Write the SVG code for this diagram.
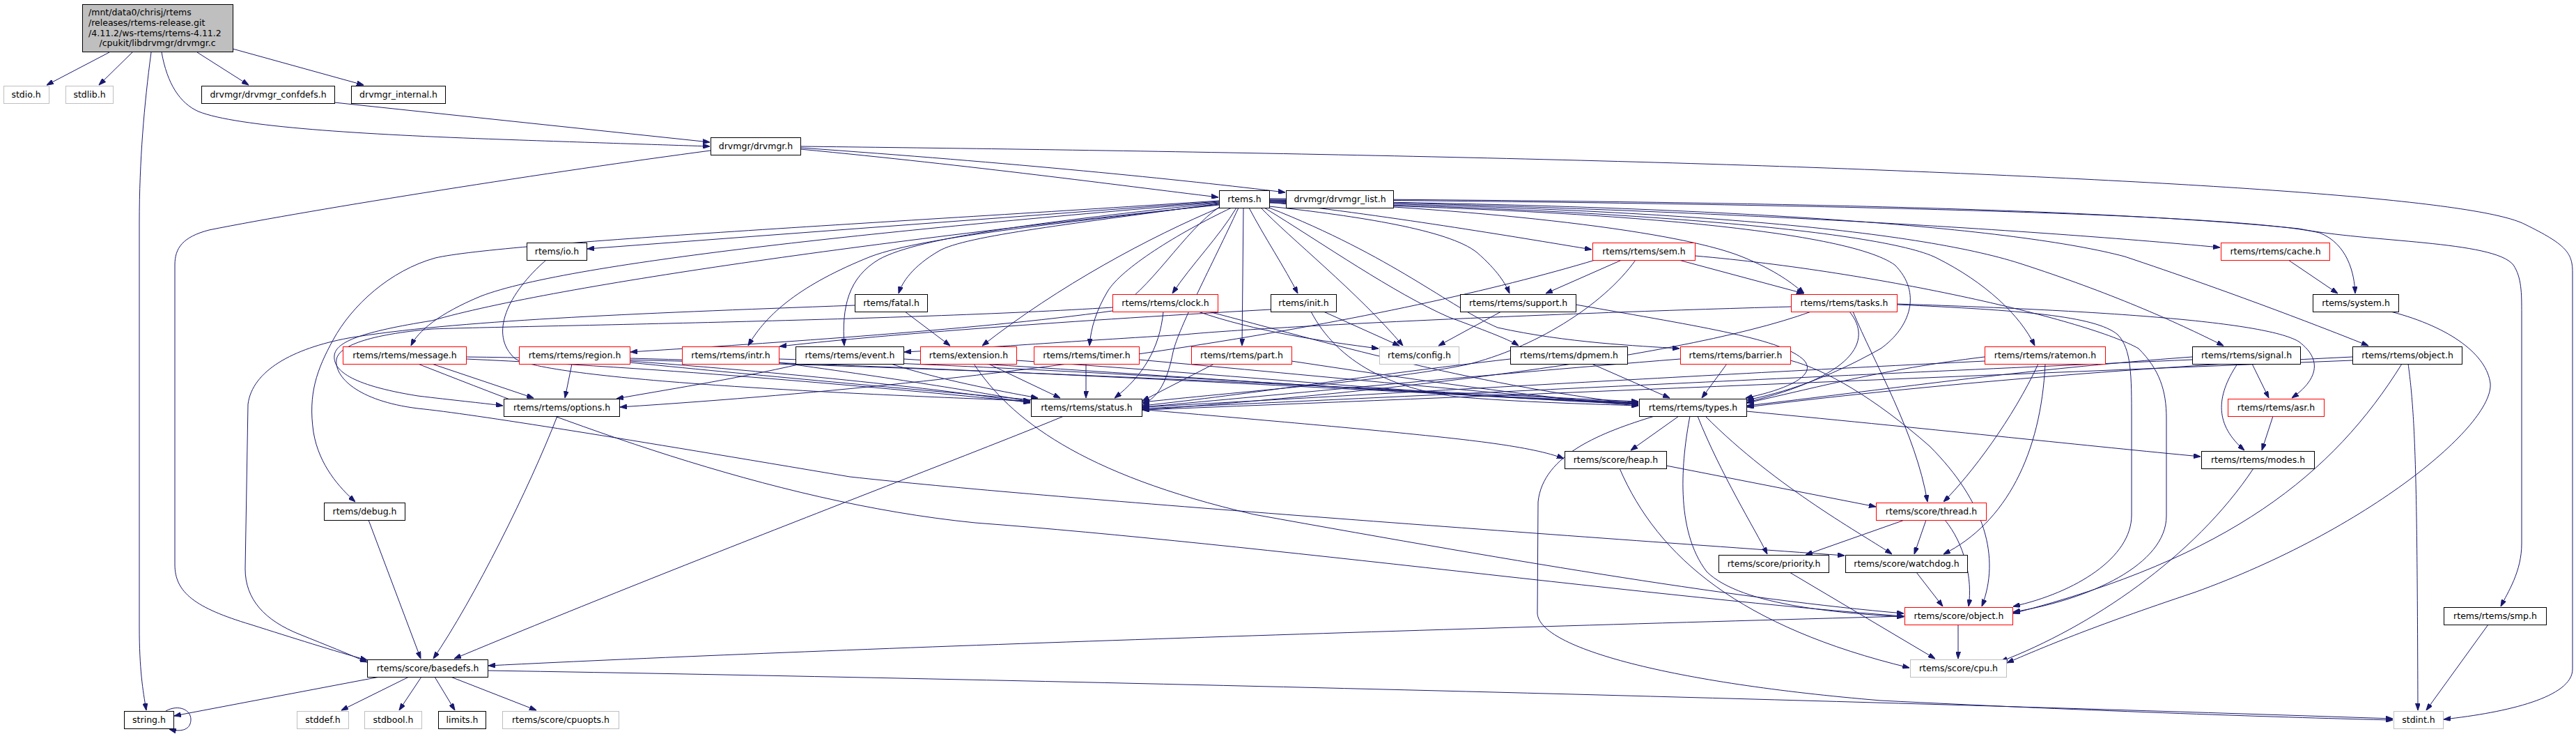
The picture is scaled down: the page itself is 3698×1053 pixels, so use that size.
<svg xmlns="http://www.w3.org/2000/svg" width="3698" height="1053" viewBox="0 0 3698 1053">
<defs>
<style>
.node rect{fill:#fff;stroke:#000;stroke-width:1}
.node.red rect{stroke:#ff0000}
.node.gray rect{stroke:#bfbfbf}
.node.main rect{fill:#bfbfbf}
text{font-family:"DejaVu Sans","Liberation Sans",sans-serif;font-size:12.5px;fill:#000;text-anchor:middle}
.node.main text.l{text-anchor:start}
.edges path{fill:none;stroke:#191970;stroke-width:1;marker-end:url(#arr)}
</style>
<marker id="arr" viewBox="0 0 10 7" refX="10" refY="3.5" markerWidth="10" markerHeight="7" orient="auto" markerUnits="userSpaceOnUse"><path d="M0,0 L10,3.5 L0,7 z" fill="#191970" stroke="#191970"/></marker>
</defs>
<rect width="3698" height="1053" fill="#fff"/>
<g id="connectors" class="edges">
<path d="M157,75 L67,122"/>
<path d="M190,75 L142,122"/>
<path d="M217,75 C207,150 200,230 200,320 L200,900 C200,960 205,990 210,1019"/>
<path d="M283,75 L357,122"/>
<path d="M334,70 L522,122"/>
<path d="M232,75 C240,120 258,148 285,160 C340,182 520,193 720,200 C860,205 960,208 1019,210"/>
<path d="M480,147 L1019,204"/>
<path d="M1149,214 C1400,238 1600,265 1749,283"/>
<path d="M1149,212 C1450,233 1700,258 1845,276"/>
<path d="M1149,210 C1500,214 2200,224 2700,244 C3200,264 3560,288 3625,322 C3682,350 3693,362 3693,390 L3693,960 C3693,1000 3600,1022 3508,1032"/>
<path d="M1020,216 C800,245 450,300 300,330 C262,340 251,356 251,380 L251,810 C251,850 280,872 360,896 C420,915 480,934 527,947"/>
<path d="M1750,289 L843,357"/>
<path d="M1750,292 C1550,320 1385,338 1348,360 C1310,382 1295,405 1290,421"/>
<path d="M1775,298 C1750,340 1710,380 1683,421"/>
<path d="M1785,298 L1783,496"/>
<path d="M1793,298 C1815,340 1845,385 1863,421"/>
<path d="M1750,291 C1500,318 1320,340 1262,372 C1218,398 1208,440 1212,496"/>
<path d="M1753,297 C1650,340 1520,410 1410,496"/>
<path d="M1768,298 C1690,335 1610,385 1590,418 C1574,445 1566,470 1564,496"/>
<path d="M1750,293 C1550,318 1330,338 1250,368 C1150,408 1100,450 1074,496"/>
<path d="M1750,290 C1300,328 820,375 690,425 C630,450 600,475 590,496"/>
<path d="M1752,296 C1700,330 1650,420 1597,446 C1400,474 1060,495 905,505"/>
<path d="M1750,288 C1300,318 720,348 625,370 C560,388 505,438 478,488 C455,530 442,565 450,620 C458,668 488,700 510,720"/>
<path d="M1750,294 C1300,340 800,408 620,460 C520,476 482,490 480,510 C478,530 500,552 600,568 C650,574 690,578 722,582"/>
<path d="M1778,298 C1740,380 1692,470 1684,505 C1676,545 1664,570 1640,580"/>
<path d="M1822,291 C2300,300 2650,330 2720,380 C2760,420 2742,470 2700,500 C2620,545 2560,563 2508,574"/>
<path d="M1810,298 C1850,340 1950,420 2014,496"/>
<path d="M1822,296 C1950,310 2080,330 2120,362 C2150,388 2162,408 2167,421"/>
<path d="M1815,298 C1900,350 2000,420 2080,455 C2140,477 2168,488 2180,496"/>
<path d="M1822,298 C2000,368 2080,440 2150,470 C2250,492 2350,496 2411,500"/>
<path d="M1822,290 C2000,310 2200,344 2285,358"/>
<path d="M1822,288 C2100,298 2400,328 2500,368 C2550,388 2575,408 2590,421"/>
<path d="M1822,287 C2400,298 2900,328 3187,355"/>
<path d="M1822,286 C2500,291 3200,304 3330,334 C3370,350 3380,392 3381,421"/>
<path d="M1822,285 C2500,289 3000,298 3300,328 C3400,348 3580,345 3608,380 C3620,398 3620,420 3620,450 L3620,780 C3620,820 3600,850 3590,870"/>
<path d="M1822,290 C2300,298 2700,330 2780,370 C2850,405 2900,452 2921,496"/>
<path d="M1822,289 C2400,298 2750,330 2900,378 C3030,420 3120,460 3192,496"/>
<path d="M1822,288 C2500,294 2900,328 3050,368 C3200,418 3330,468 3400,496"/>
<path d="M1299,447 L1364,496"/>
<path d="M1227,438 C900,450 650,460 500,485 C420,500 362,532 356,580 L352,816 C352,860 380,890 430,910 C470,926 500,938 527,950"/>
<path d="M529,746 L604,945"/>
<path d="M800,597 C760,700 680,860 622,945"/>
<path d="M1527,597 C1400,650 1000,800 652,945"/>
<path d="M2734,884 C2000,904 1200,930 701,955"/>
<path d="M545,971 L250,1027"/>
<path d="M587,971 L490,1019"/>
<path d="M605,971 L573,1019"/>
<path d="M624,971 L653,1019"/>
<path d="M647,971 L770,1019"/>
<path d="M700,962 C1500,975 2500,1000 3435,1031"/>
<path d="M238,1020 C256,1010 274,1018 274,1032 C274,1046 262,1051 243,1046"/>
<path d="M2410,597 L2341,646"/>
<path d="M2437,597 C2470,680 2520,760 2537,795"/>
<path d="M2448,597 C2550,700 2680,770 2716,795"/>
<path d="M2426,597 C2414,660 2404,760 2450,820 C2500,870 2650,880 2733,885"/>
<path d="M2375,597 C2300,620 2215,652 2208,720 L2207,880 C2210,930 2400,980 2700,1005 C3000,1020 3300,1030 3435,1033"/>
<path d="M2507,590 C2800,618 3000,640 3159,655"/>
<path d="M2392,668 L2693,727"/>
<path d="M2325,672 C2380,800 2500,900 2741,958"/>
<path d="M2734,746 L2592,796"/>
<path d="M2765,746 L2748,795"/>
<path d="M2792,746 C2820,780 2832,830 2826,870"/>
<path d="M2569,821 L2778,945"/>
<path d="M2751,821 L2789,870"/>
<path d="M2811,896 L2811,945"/>
<path d="M2926,522 C2890,600 2830,680 2790,720"/>
<path d="M2936,522 C2930,650 2880,750 2790,795"/>
<path d="M2849,512 C2700,530 2600,558 2508,578"/>
<path d="M2849,518 C2400,540 1900,570 1640,584"/>
<path d="M3233,522 L3257,571"/>
<path d="M3212,522 C3180,570 3180,610 3222,646"/>
<path d="M3147,512 C2900,530 2700,560 2508,582"/>
<path d="M3147,516 C2600,540 2000,570 1640,586"/>
<path d="M2723,436 C3000,445 3250,460 3300,490 C3340,520 3320,550 3290,571"/>
<path d="M2660,447 C2690,520 2750,620 2767,720"/>
<path d="M2655,447 C2690,490 2660,540 2508,577"/>
<path d="M2600,447 C2400,520 1900,570 1640,588"/>
<path d="M2571,440 C2200,450 1800,470 1700,480 C1500,492 1400,500 1298,505"/>
<path d="M2723,437 C2900,445 3008,453 3040,480 C3060,500 3060,540 3060,600 L3060,739 C3060,800 2980,850 2890,870"/>
<path d="M2433,367 C2700,390 3000,460 3070,500 C3100,530 3110,560 3110,600 L3110,740 C3110,810 3000,860 2890,878"/>
<path d="M2328,373 L2219,421"/>
<path d="M2410,373 L2589,421"/>
<path d="M2290,373 C2000,460 1500,545 890,584"/>
<path d="M2348,373 C2300,440 2200,500 2106,523 C2000,545 1800,560 1640,577"/>
<path d="M2479,522 L2443,571"/>
<path d="M2412,515 C2100,540 1800,570 1640,584"/>
<path d="M2570,517 C2620,530 2690,570 2770,640 C2850,720 2872,800 2845,870"/>
<path d="M2285,522 L2397,571"/>
<path d="M2168,515 C1950,540 1800,565 1640,582"/>
<path d="M2155,447 L2065,496"/>
<path d="M2262,437 C2450,470 2560,487 2590,517 C2610,540 2560,560 2506,571"/>
<path d="M1900,447 L2009,496"/>
<path d="M1882,447 C1920,520 2000,560 2100,570 C2200,578 2300,580 2352,582"/>
<path d="M1824,444 C1500,462 1250,482 1119,497"/>
<path d="M1670,447 C1665,500 1640,540 1600,571"/>
<path d="M1720,447 C1800,475 1900,490 1979,500"/>
<path d="M1735,447 C1900,490 2100,550 2352,580"/>
<path d="M1597,441 C1300,460 720,468 620,472 C530,480 486,496 483,516 C480,540 512,575 600,586 C680,594 900,630 1220,684 C1500,715 2200,765 2648,797"/>
<path d="M1743,522 L1640,575"/>
<path d="M1854,518 C2000,540 2200,570 2352,582"/>
<path d="M1559,522 L1559,571"/>
<path d="M1635,516 C1900,540 2200,570 2352,580"/>
<path d="M600,522 C800,600 1100,720 1400,750 C1800,780 2400,860 2733,884"/>
<path d="M1398,522 C1450,600 1550,680 1800,738 C2200,810 2500,860 2733,880"/>
<path d="M1419,522 L1522,571"/>
<path d="M1459,517 C1800,540 2100,570 2352,580"/>
<path d="M1279,522 C1350,545 1430,560 1490,571"/>
<path d="M1297,515 C1700,540 2100,570 2352,579"/>
<path d="M1150,522 C1050,545 950,560 885,572"/>
<path d="M1118,520 C1300,545 1420,565 1479,576"/>
<path d="M1118,515 C1600,530 2100,570 2352,578"/>
<path d="M821,522 L811,571"/>
<path d="M904,518 C1200,540 1400,565 1479,578"/>
<path d="M904,514 C1500,530 2000,565 2352,577"/>
<path d="M904,520 C1300,560 1800,600 2000,620 C2100,630 2200,640 2245,658"/>
<path d="M620,522 L766,571"/>
<path d="M669,515 C1000,530 1300,560 1479,577"/>
<path d="M669,512 C1300,520 2000,560 2352,576"/>
<path d="M784,373 C730,420 700,480 740,515 C800,545 1200,565 1479,575"/>
<path d="M3448,522 C3350,680 3200,800 2890,880"/>
<path d="M3457,522 C3468,600 3470,700 3471,1019"/>
<path d="M3377,512 C3000,530 2700,560 2508,584"/>
<path d="M3377,517 C2800,540 2100,570 1640,588"/>
<path d="M3263,597 L3247,646"/>
<path d="M3235,672 C3150,800 3000,900 2872,949"/>
<path d="M3432,447 C3520,470 3570,510 3575,550 C3580,610 3400,760 3150,850 C3000,900 2930,930 2881,951"/>
<path d="M3285,373 L3356,421"/>
<path d="M3572,896 L3483,1019"/>
</g>
<g id="n_main" class="node main"><rect x="118.5" y="6.5" width="216" height="68"/>
<text class="l" x="127" y="22">/mnt/data0/chrisj/rtems</text>
<text class="l" x="127" y="37">/releases/rtems-release.git</text>
<text class="l" x="127" y="51.5">/4.11.2/ws-rtems/rtems-4.11.2</text>
<text x="226" y="66">/cpukit/libdrvmgr/drvmgr.c</text></g>
<g id="n_stdio" class="node gray"><rect x="5.5" y="123.5" width="65" height="25"/><text x="37.5" y="140">stdio.h</text></g>
<g id="n_stdlib" class="node gray"><rect x="94.5" y="123.5" width="68" height="25"/><text x="128.5" y="140">stdlib.h</text></g>
<g id="n_confdefs" class="node"><rect x="289.5" y="123.5" width="191" height="25"/><text x="385" y="140">drvmgr/drvmgr_confdefs.h</text></g>
<g id="n_internal" class="node"><rect x="504.5" y="123.5" width="135" height="25"/><text x="572" y="140">drvmgr_internal.h</text></g>
<g id="n_drvmgr" class="node"><rect x="1020.5" y="197.5" width="129" height="25"/><text x="1085" y="214">drvmgr/drvmgr.h</text></g>
<g id="n_rtemsh" class="node"><rect x="1750.5" y="273.5" width="72" height="25"/><text x="1786.5" y="290">rtems.h</text></g>
<g id="n_list" class="node"><rect x="1846.5" y="273.5" width="154" height="25"/><text x="1923.5" y="290">drvmgr/drvmgr_list.h</text></g>
<g id="n_io" class="node"><rect x="756.5" y="348.5" width="86" height="25"/><text x="799.5" y="365">rtems/io.h</text></g>
<g id="n_sem" class="node red"><rect x="2286.5" y="348.5" width="147" height="25"/><text x="2360" y="365">rtems/rtems/sem.h</text></g>
<g id="n_cache" class="node red"><rect x="3188.5" y="348.5" width="156" height="25"/><text x="3266.5" y="365">rtems/rtems/cache.h</text></g>
<g id="n_fatal" class="node"><rect x="1227.5" y="422.5" width="104" height="25"/><text x="1279.5" y="439">rtems/fatal.h</text></g>
<g id="n_clock" class="node red"><rect x="1597.5" y="422.5" width="151" height="25"/><text x="1673" y="439">rtems/rtems/clock.h</text></g>
<g id="n_init" class="node"><rect x="1824.5" y="422.5" width="94" height="25"/><text x="1871.5" y="439">rtems/init.h</text></g>
<g id="n_support" class="node"><rect x="2096.5" y="422.5" width="166" height="25"/><text x="2179.5" y="439">rtems/rtems/support.h</text></g>
<g id="n_tasks" class="node red"><rect x="2571.5" y="422.5" width="152" height="25"/><text x="2647.5" y="439">rtems/rtems/tasks.h</text></g>
<g id="n_system" class="node"><rect x="3320.5" y="422.5" width="123" height="25"/><text x="3382" y="439">rtems/system.h</text></g>
<g id="n_message" class="node red"><rect x="492.5" y="497.5" width="177" height="25"/><text x="581" y="514">rtems/rtems/message.h</text></g>
<g id="n_region" class="node red"><rect x="745.5" y="497.5" width="159" height="25"/><text x="825" y="514">rtems/rtems/region.h</text></g>
<g id="n_intr" class="node red"><rect x="979.5" y="497.5" width="139" height="25"/><text x="1049" y="514">rtems/rtems/intr.h</text></g>
<g id="n_event" class="node"><rect x="1142.5" y="497.5" width="155" height="25"/><text x="1220" y="514">rtems/rtems/event.h</text></g>
<g id="n_extension" class="node red"><rect x="1321.5" y="497.5" width="138" height="25"/><text x="1390.5" y="514">rtems/extension.h</text></g>
<g id="n_timer" class="node red"><rect x="1484.5" y="497.5" width="151" height="25"/><text x="1560" y="514">rtems/rtems/timer.h</text></g>
<g id="n_part" class="node red"><rect x="1710.5" y="497.5" width="144" height="25"/><text x="1782.5" y="514">rtems/rtems/part.h</text></g>
<g id="n_config" class="node gray"><rect x="1980.5" y="497.5" width="114" height="25"/><text x="2037.5" y="514">rtems/config.h</text></g>
<g id="n_dpmem" class="node"><rect x="2168.5" y="497.5" width="168" height="25"/><text x="2252.5" y="514">rtems/rtems/dpmem.h</text></g>
<g id="n_barrier" class="node red"><rect x="2412.5" y="497.5" width="158" height="25"/><text x="2491.5" y="514">rtems/rtems/barrier.h</text></g>
<g id="n_ratemon" class="node red"><rect x="2849.5" y="497.5" width="173" height="25"/><text x="2936" y="514">rtems/rtems/ratemon.h</text></g>
<g id="n_signal" class="node"><rect x="3147.5" y="497.5" width="155" height="25"/><text x="3225" y="514">rtems/rtems/signal.h</text></g>
<g id="n_robject" class="node"><rect x="3377.5" y="497.5" width="157" height="25"/><text x="3456" y="514">rtems/rtems/object.h</text></g>
<g id="n_options" class="node"><rect x="723.5" y="572.5" width="166" height="25"/><text x="806.5" y="589">rtems/rtems/options.h</text></g>
<g id="n_status" class="node"><rect x="1480.5" y="572.5" width="159" height="25"/><text x="1560" y="589">rtems/rtems/status.h</text></g>
<g id="n_types" class="node"><rect x="2353.5" y="572.5" width="154" height="25"/><text x="2430.5" y="589">rtems/rtems/types.h</text></g>
<g id="n_asr" class="node red"><rect x="3198.5" y="572.5" width="138" height="25"/><text x="3267.5" y="589">rtems/rtems/asr.h</text></g>
<g id="n_heap" class="node"><rect x="2246.5" y="647.5" width="146" height="25"/><text x="2319.5" y="664">rtems/score/heap.h</text></g>
<g id="n_modes" class="node"><rect x="3160.5" y="647.5" width="162" height="25"/><text x="3241.5" y="664">rtems/rtems/modes.h</text></g>
<g id="n_debug" class="node"><rect x="465.5" y="721.5" width="116" height="25"/><text x="523.5" y="738">rtems/debug.h</text></g>
<g id="n_thread" class="node red"><rect x="2693.5" y="721.5" width="158" height="25"/><text x="2772.5" y="738">rtems/score/thread.h</text></g>
<g id="n_priority" class="node"><rect x="2467.5" y="796.5" width="158" height="25"/><text x="2546.5" y="813">rtems/score/priority.h</text></g>
<g id="n_watchdog" class="node"><rect x="2649.5" y="796.5" width="175" height="25"/><text x="2737" y="813">rtems/score/watchdog.h</text></g>
<g id="n_sobject" class="node red"><rect x="2734.5" y="871.5" width="155" height="25"/><text x="2812" y="888">rtems/score/object.h</text></g>
<g id="n_smp" class="node"><rect x="3508.5" y="871.5" width="147" height="25"/><text x="3582" y="888">rtems/rtems/smp.h</text></g>
<g id="n_basedefs" class="node"><rect x="527.5" y="946.5" width="173" height="25"/><text x="614" y="963">rtems/score/basedefs.h</text></g>
<g id="n_cpu" class="node gray"><rect x="2742.5" y="946.5" width="138" height="25"/><text x="2811.5" y="963">rtems/score/cpu.h</text></g>
<g id="n_string" class="node"><rect x="178.5" y="1020.5" width="71" height="25"/><text x="214" y="1037">string.h</text></g>
<g id="n_stddef" class="node gray"><rect x="426.5" y="1020.5" width="74" height="25"/><text x="463.5" y="1037">stddef.h</text></g>
<g id="n_stdbool" class="node gray"><rect x="523.5" y="1020.5" width="82" height="25"/><text x="564.5" y="1037">stdbool.h</text></g>
<g id="n_limits" class="node"><rect x="629.5" y="1020.5" width="68" height="25"/><text x="663.5" y="1037">limits.h</text></g>
<g id="n_cpuopts" class="node gray"><rect x="721.5" y="1020.5" width="167" height="25"/><text x="805" y="1037">rtems/score/cpuopts.h</text></g>
<g id="n_stdint" class="node gray"><rect x="3436.5" y="1020.5" width="71" height="25"/><text x="3472" y="1037">stdint.h</text></g>
</svg>
